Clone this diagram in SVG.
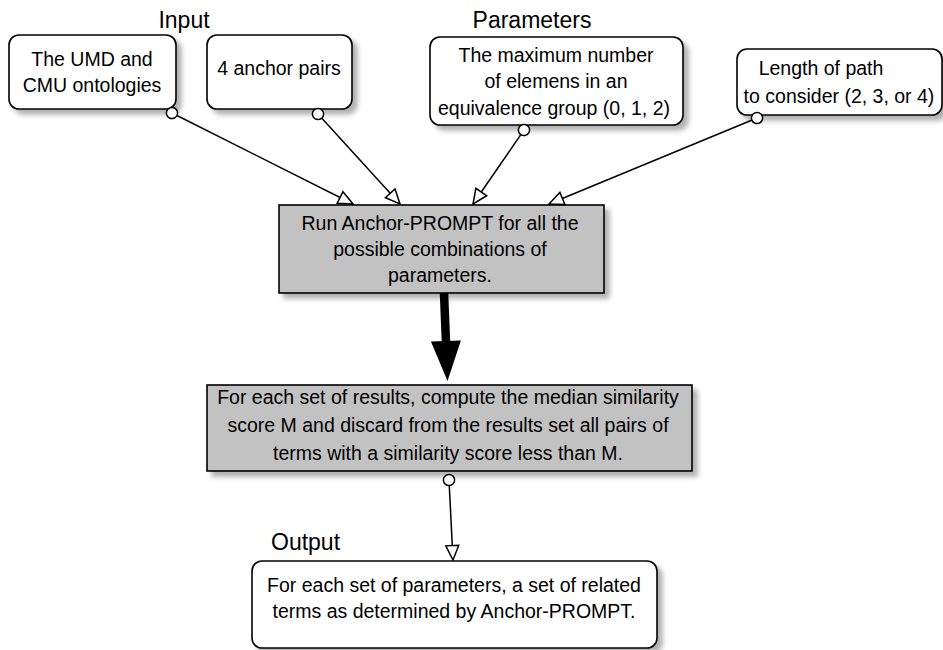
<svg xmlns="http://www.w3.org/2000/svg" width="943" height="650" viewBox="0 0 943 650">
<style>
  text { font-family: "Liberation Sans", Arial, sans-serif; fill: #000; }
  .t { font-size: 19.5px; text-anchor: middle; }
  .lbl { font-size: 23px; }
  .box { fill: #fff; stroke: #000; stroke-width: 1.6; filter: url(#sh); }
  .gbox { fill: #c2c2c2; stroke: #000; stroke-width: 1.6; filter: url(#sh); }
  .conn { fill: none; stroke: #000; stroke-width: 1.5; marker-start: url(#circ); marker-end: url(#open); }
</style>
<defs>
  <filter id="sh" x="-10%" y="-10%" width="130%" height="140%">
    <feDropShadow dx="5" dy="5" stdDeviation="2.5" flood-color="#000" flood-opacity="0.3"/>
  </filter>
  <marker id="open" markerUnits="userSpaceOnUse" markerWidth="18" markerHeight="16" refX="15.5" refY="7" orient="auto" overflow="visible">
    <path d="M1,0.5 L15.5,7 L1,13.5 Z" fill="#fff" stroke="#000" stroke-width="1.5"/>
  </marker>
  <marker id="circ" markerUnits="userSpaceOnUse" markerWidth="14" markerHeight="14" refX="7" refY="7" orient="auto" overflow="visible">
    <circle cx="7" cy="7" r="5.6" fill="#fff" stroke="#000" stroke-width="1.5"/>
  </marker>
  <marker id="big" markerUnits="userSpaceOnUse" markerWidth="42" markerHeight="32" refX="2" refY="15" orient="auto" overflow="visible">
    <path d="M0,0 L40,15 L0,30 Z" fill="#000"/>
  </marker>
</defs>

<text class="lbl" x="184" y="28" text-anchor="middle">Input</text>
<text class="lbl" x="532" y="28" text-anchor="middle">Parameters</text>
<text class="lbl" x="271" y="550">Output</text>

<g id="n1">
  <rect class="box" x="9" y="35" width="167" height="74" rx="10"/>
  <text class="t" x="92" y="66">The UMD and</text>
  <text class="t" x="92" y="92">CMU ontologies</text>
</g>
<g id="n2">
  <rect class="box" x="207" y="35" width="145" height="74" rx="10"/>
  <text class="t" x="279" y="75">4 anchor pairs</text>
</g>
<g id="n3">
  <rect class="box" x="430" y="37" width="253" height="88" rx="10"/>
  <text class="t" x="556" y="62">The maximum number</text>
  <text class="t" x="556" y="88">of elemens in an</text>
  <text class="t" x="554" y="115">equivalence group (0, 1, 2)</text>
</g>
<g id="n4">
  <rect class="box" x="737" y="49" width="205" height="66" rx="10"/>
  <text class="t" x="821" y="75">Length of path</text>
  <text class="t" x="839" y="103">to consider (2, 3, or 4)</text>
</g>
<g id="n5">
  <rect class="gbox" x="279" y="205" width="325" height="88"/>
  <text class="t" x="440" y="230">Run Anchor-PROMPT for all the</text>
  <text class="t" x="440" y="256">possible combinations of</text>
  <text class="t" x="440" y="282">parameters.</text>
</g>
<g id="n6">
  <rect class="gbox" x="207" y="385" width="485" height="86"/>
  <text class="t" x="448" y="404">For each set of results, compute the median similarity</text>
  <text class="t" x="448" y="432">score M and discard from the results set all pairs of</text>
  <text class="t" x="448" y="460">terms with a similarity score less than M.</text>
</g>
<g id="n7">
  <rect class="box" x="252" y="561" width="405" height="87" rx="10"/>
  <text class="t" x="454" y="592">For each set of parameters, a set of related</text>
  <text class="t" x="454" y="618">terms as determined by Anchor-PROMPT.</text>
</g>

<g id="connectors">
  <path class="conn" d="M172,113 L353,204"/>
  <path class="conn" d="M318,114 L400,204"/>
  <path class="conn" d="M524,130 L473,204"/>
  <path class="conn" d="M757,118 L549,204"/>
  <path d="M444,293 L446,343" fill="none" stroke="#000" stroke-width="8.5" marker-end="url(#big)"/>
  <path class="conn" d="M449,480 L453,560"/>
</g>
</svg>
